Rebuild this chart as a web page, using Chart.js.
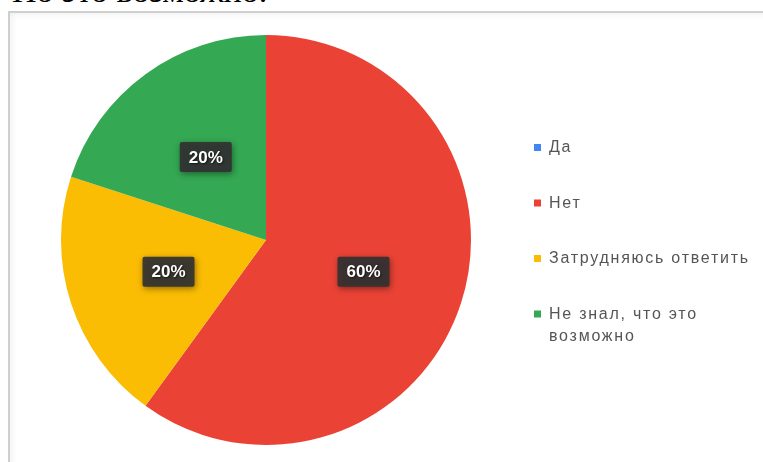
<!DOCTYPE html>
<html>
<head>
<meta charset="utf-8">
<script src="https://cdn.jsdelivr.net/npm/chart.js@4/dist/chart.umd.min.js"></script>
<style>
  html, body { margin: 0; padding: 0; background: #fff; overflow: hidden; }
  body { width: 763px; height: 462px; position: relative; }
  #top { position: absolute; left: 12px; top: -26px; font-family: "Liberation Serif", serif; font-size: 34px; line-height: 33px; color: #000; white-space: nowrap; }
  #frame { position: absolute; left: 8px; top: 11px; width: 800px; height: 500px; border: 2px solid #cfcfcf; box-shadow: inset 2px 2px 6px rgba(0,0,0,0.06); box-sizing: border-box; }
  #wrap { position: absolute; left: 0; top: 0; width: 763px; height: 462px; }
</style>
</head>
<body>
<div id="top">Но это возможно.</div>
<div id="frame"></div>
<div id="wrap"><canvas id="c"></canvas></div>
<script>
const categories = ["Да", "Нет", "Затрудняюсь ответить", "Не знал, что это возможно"];
const values = [0, 60, 20, 20];
const colors = ["#4285F4", "#EA4335", "#FBBC04", "#34A853"];

const sliceLabels = {
  id: "sliceLabels",
  afterDatasetsDraw(chart) {
    const ctx = chart.ctx;
    const meta = chart.getDatasetMeta(0);
    const ds = chart.data.datasets[0];
    const total = ds.data.reduce((a, b) => a + b, 0);
    meta.data.forEach((arc, i) => {
      const v = ds.data[i];
      if (!v) return;
      const p = arc.tooltipPosition();
      const txt = Math.round(v / total * 100) + "%";
      ctx.save();
      ctx.font = "bold 17px 'Liberation Sans', Arial, sans-serif";
      const w = ctx.measureText(txt).width + 18;
      const h = 30;
      ctx.shadowColor = "rgba(0,0,0,0.45)";
      ctx.shadowBlur = 6;
      ctx.shadowOffsetX = 1;
      ctx.shadowOffsetY = 2;
      ctx.fillStyle = "rgba(50,50,50,0.92)";
      ctx.beginPath();
      ctx.roundRect(p.x - w / 2, p.y - h / 2, w, h, 2);
      ctx.fill();
      ctx.shadowColor = "rgba(0,0,0,0.6)";
      ctx.shadowBlur = 2;
      ctx.shadowOffsetX = 1;
      ctx.shadowOffsetY = 1;
      ctx.fillStyle = "#ffffff";
      ctx.textAlign = "center";
      ctx.textBaseline = "middle";
      ctx.fillText(txt, p.x, p.y + 1);
      ctx.restore();
    });
  }
};

const sideLegend = {
  id: "sideLegend",
  afterDraw(chart) {
    const ctx = chart.ctx;
    const x0 = 534, textX = 549, maxW = 205;
    const startY = 148, step = 55.5, lineH = 22;
    ctx.save();
    ctx.font = "16px 'Liberation Sans', Arial, sans-serif";
    ctx.letterSpacing = "1.75px";
    ctx.textBaseline = "middle";
    ctx.textAlign = "left";
    categories.forEach((label, i) => {
      const y = startY + i * step;
      ctx.fillStyle = colors[i];
      ctx.fillRect(x0, y - 4, 7, 7);
      const words = label.split(" ");
      const lines = [];
      let cur = "";
      words.forEach(w => {
        const t = cur ? cur + " " + w : w;
        if (ctx.measureText(t).width > maxW && cur) { lines.push(cur); cur = w; }
        else cur = t;
      });
      if (cur) lines.push(cur);
      ctx.fillStyle = "#555555";
      lines.forEach((ln, j) => ctx.fillText(ln, textX, y + j * lineH));
    });
    ctx.restore();
  }
};

new Chart(document.getElementById("c"), {
  type: "pie",
  data: {
    labels: categories,
    datasets: [{ data: values, backgroundColor: colors, borderWidth: 0 }]
  },
  options: {
    responsive: true,
    maintainAspectRatio: false,
    animation: false,
    layout: { padding: { left: 61, top: 35, right: 292, bottom: 17 } },
    plugins: { legend: { display: false }, tooltip: { enabled: false } }
  },
  plugins: [sliceLabels, sideLegend]
});
</script>
</body>
</html>
